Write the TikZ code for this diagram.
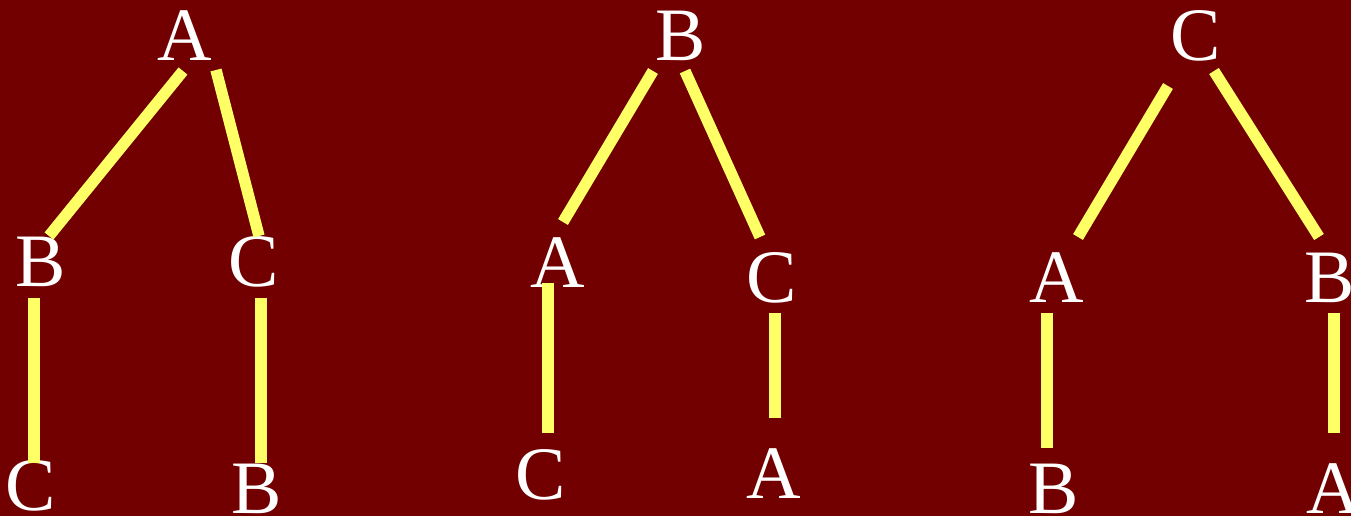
\documentclass[tikz,border=0pt]{standalone}
\usepackage{fontspec}
\setmainfont{Liberation Serif}
\usepackage{tikz}
\usetikzlibrary{calc}

\definecolor{maroonbg}{RGB}{114,0,0}
\definecolor{edgeyellow}{RGB}{255,255,102}

\begin{document}
\begin{tikzpicture}[
  x=0.5pt, y=-0.5pt,
  letter/.style={anchor=base, inner sep=0pt, text=white,
                 font=\fontsize{37.75}{40}\selectfont},
  edge/.style={draw=edgeyellow, line width=5.7pt, line cap=butt}
]
\useasboundingbox (0,0) rectangle (1351,516);
\fill[maroonbg] (0,0) rectangle (1351,516);

\node[letter] (t1a) at (185,60) {A};
\node[letter] (t1b) at (41,286) {B};
\node[letter] (t1c) at (254,286) {C};
\node[letter] (t1bc) at (31,510) {C};
\node[letter] (t1cb) at (257,513) {B};

\node[letter] (t2b) at (681,60) {B};
\node[letter] (t2a) at (558,287) {A};
\node[letter] (t2c) at (772,302) {C};
\node[letter] (t2ac) at (541,499) {C};
\node[letter] (t2ca) at (774,498) {A};

\node[letter] (t3c) at (1196,60) {C};
\node[letter] (t3a) at (1057,302) {A};
\node[letter] (t3b) at (1330,302) {B};
\node[letter] (t3ab) at (1054,513) {B};
\node[letter] (t3ba) at (1334,513) {A};

\draw[edge] ($(t1a.base)+(-2,11)$) -- ($(t1b.base)+(8,-50)$);
\draw[edge] ($(t1a.base)+(31,10)$) -- ($(t1c.base)+(5,-50)$);
\draw[edge] ($(t1b.base)+(-7,12)$) -- ($(t1bc.base)+(3,-47)$);
\draw[edge] ($(t1c.base)+(7,12)$) -- ($(t1cb.base)+(4,-50)$);

\draw[edge] ($(t2b.base)+(-28,11)$) -- ($(t2a.base)+(5,-65)$);
\draw[edge] ($(t2b.base)+(4,11)$) -- ($(t2c.base)+(-12,-65)$);
\draw[edge] ($(t2a.base)+(-10,-4)$) -- ($(t2ac.base)+(7,-66)$);
\draw[edge] ($(t2c.base)+(3,11)$) -- ($(t2ca.base)+(1,-80)$);

\draw[edge] ($(t3c.base)+(-28,26)$) -- ($(t3a.base)+(21,-65)$);
\draw[edge] ($(t3c.base)+(18,11)$) -- ($(t3b.base)+(-11,-65)$);
\draw[edge] ($(t3a.base)+(-10,11)$) -- ($(t3ab.base)+(-7,-65)$);
\draw[edge] ($(t3b.base)+(4,11)$) -- ($(t3ba.base)+(0,-80)$);

\end{tikzpicture}
\end{document}
